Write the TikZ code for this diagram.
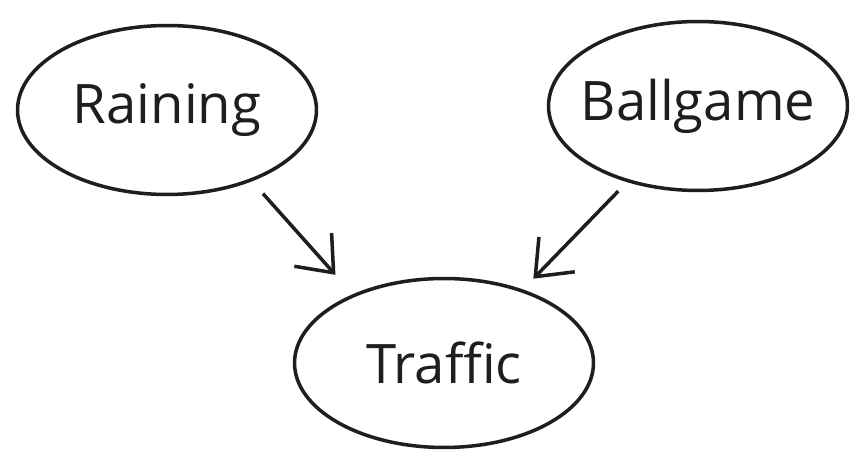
\documentclass[tikz,border=0pt]{standalone}
\usepackage{fontspec}
\setmainfont{Open Sans}
\usepackage{tikz}
\usetikzlibrary{shapes.geometric, arrows.meta, positioning}
\definecolor{ink}{HTML}{1E1E1E}
\tikzstyle{var} = [ellipse, draw=ink, text=ink, line width=2pt, inner xsep=-0.8cm, inner ysep=0pt, minimum width=5.98cm, minimum height=3.38cm, font=\fontsize{31}{37}\selectfont]
\tikzstyle{arrow} = [draw=ink, line width=2pt, -{Straight Barb[length=0.62cm, width=1.0cm, line width=2pt]}]

\begin{document}
\begin{tikzpicture}[x=0.02cm, y=-0.02cm]
\useasboundingbox (0,0) rectangle (868,469);

% Variables
\node[var] (rain) at (167,110) {Raining};
\node[var] (ball) at (698,106) {Ballgame};
\node[var] (traffic) at (444,363) {Traffic};

% Edges
\draw[arrow, shorten <=0.33cm, shorten >=0.52cm] (rain.-40) -- (traffic.143);
\draw[arrow, shorten <=0.25cm, shorten >=0.30cm] (ball.-133) -- (traffic.43);
\end{tikzpicture}
\end{document}
